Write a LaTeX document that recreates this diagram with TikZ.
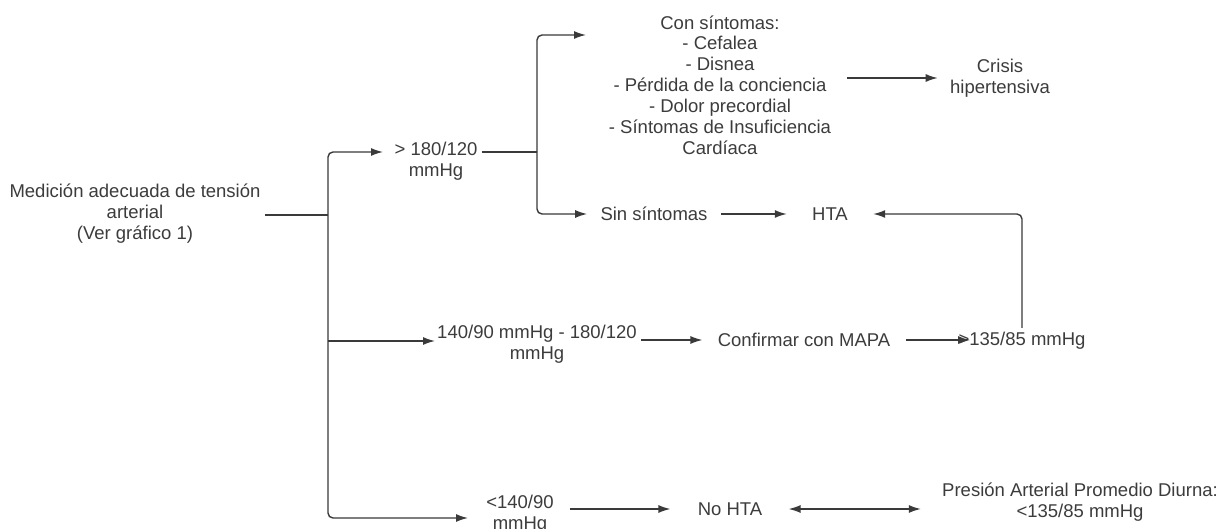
\documentclass[tikz,border=0pt]{standalone}
\usepackage{fontspec}
\setmainfont{Liberation Sans}
\usetikzlibrary{arrows.meta}
\definecolor{txtc}{HTML}{3C3C3C}
\definecolor{linec}{HTML}{3A3A3A}
\newcommand\diagfs{\fontsize{9.25}{10.45}\selectfont}
\begin{document}
\begin{tikzpicture}[x=0.5pt,y=-0.5pt,
  txt/.style={font=\diagfs, text=txtc, align=center, inner sep=2pt},
  ln/.style={draw=linec, line width=0.7pt},
  arr/.style={ln, -{Latex[length=6pt,width=4pt]}},
  darr/.style={ln, {Latex[length=6pt,width=4pt]}-{Latex[length=6pt,width=4pt]}},
  rc/.style={rounded corners=2.5pt}]
\useasboundingbox (0,0) rectangle (1222,529);
\fill[white] (0,0) rectangle (1222,529);

% nodes
\node[txt] (main) at (135,214) {Medición adecuada de tensión\\arterial\\(Ver gráfico 1)};
\node[txt] (g180) at (436,161) {> 180/120\\mmHg};
\node[txt] (con) at (720,85) {Con síntomas:\\- Cefalea\\- Disnea\\- Pérdida de la conciencia\\- Dolor precordial\\- Síntomas de Insuficiencia\\Cardíaca};
\node[txt] (crisis) at (1000,78) {Crisis\\hipertensiva};
\node[txt] (sin) at (654,214) {Sin síntomas};
\node[txt] (hta) at (830,214) {HTA};
\node[txt] (rng) at (537,344) {140/90 mmHg - 180/120\\mmHg};
\node[txt] (mapa) at (804,340) {Confirmar con MAPA};
\node[txt] (g135) at (1022,341) {>135/85 mmHg};
\node[txt] (lt140) at (520,514) {<140/90\\mmHg};
\node[txt] (nohta) at (730,509) {No HTA};
\node[txt] (pres) at (1080,502) {Presión Arterial Promedio Diurna:\\<135/85 mmHg};

% junction points
\coordinate (j) at (328,215);
\coordinate (g180in) at (383,152);
\coordinate (rngin) at (435,341);
\coordinate (lt140in) at (468,518);
\coordinate (b) at (537,152);
\coordinate (conin) at (586,35);

% connectors
\draw[ln] (main.east |- j) -- (j);
\draw[arr,rc] (j) |- (g180in);
\draw[arr,rc] (j) |- (lt140in);
\draw[arr] (j |- rngin) -- (rngin);

\draw[ln] (g180.east |- b) -- (b);
\draw[arr,rc] (b) |- (conin);
\draw[arr,rc,shorten >=4.5pt] (b) |- (sin.west);

\draw[arr] ([xshift=6pt]con.east |- crisis.west) -- ([xshift=-4pt]crisis.west);
\draw[arr,shorten <=4.5pt,shorten >=10.5pt] (sin.east) -- (hta.west);
\draw[arr,rc,shorten >=10.5pt] (g135.north) |- (hta.east);

\draw[arr] (rng.east |- mapa.west) -- ([xshift=-5.5pt]mapa.west);
\draw[arr,shorten <=5.5pt,shorten >=-8pt] (mapa.east) -- (mapa.east -| g135.west);

\draw[arr,shorten <=6pt,shorten >=11.5pt] (lt140.east |- nohta.west) -- (nohta.west);
\draw[darr,shorten <=11pt,shorten >=8.5pt] (nohta.east) -- (nohta.east -| pres.west);
\end{tikzpicture}
\end{document}
